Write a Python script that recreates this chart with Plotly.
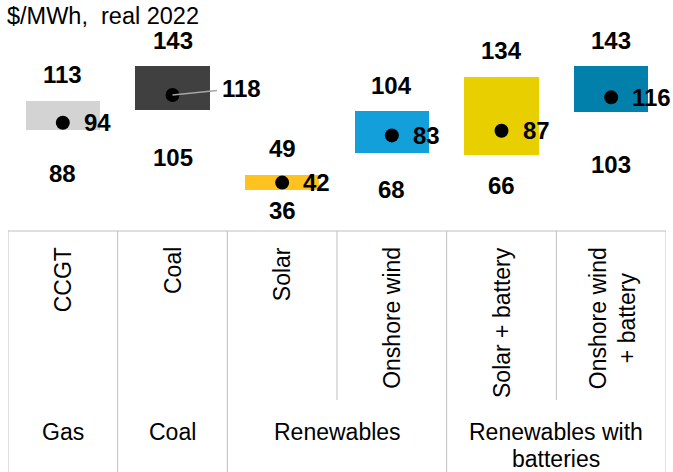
import plotly.graph_objects as go

# Levelised cost ranges by technology ($/MWh, real 2022)
categories = ["CCGT", "Coal", "Solar", "Onshore wind", "Solar + battery", "Onshore wind<br>+ battery"]
low = [88, 105, 36, 68, 66, 103]
high = [113, 143, 49, 104, 134, 143]
mid = [94, 118, 42, 83, 87, 116]
colors = ["#D3D3D3", "#404040", "#FFC21E", "#129FDA", "#E8CF00", "#0080AA"]

groups = ["Gas", "Coal", "Renewables", "Renewables with<br>batteries"]
group_spans = [(0, 0), (1, 1), (2, 3), (4, 5)]

unit_label = "$/MWh,\u00a0 real 2022"

# label styling (pixel gaps between box edges and value labels)
high_gap = 26
low_gap = [44, 47, 21, 37, 31, 52]
mid_gap = 21

W, H = 673, 472
ML, MR = 8, 7
TABLE_TOP = 231          # pixel row where the category table begins
PX_PER_UNIT = 1.152
FONT = "Liberation Sans, Arial, sans-serif"
GRID = "#BFBFBF"


def py(pixel):
    """Convert a pixel row into paper coordinates."""
    return 1 - pixel / H


idx = list(range(len(categories)))

fig = go.Figure()
fig.add_trace(go.Bar(
    x=idx, y=[h - l for h, l in zip(high, low)], base=low,
    width=0.675, marker=dict(color=colors, line=dict(width=0)),
    hoverinfo="skip", showlegend=False,
))
fig.add_trace(go.Scatter(
    x=idx, y=mid, mode="markers",
    marker=dict(size=14, color="black"),
    hoverinfo="skip", showlegend=False,
))

ann = []
bold = dict(family=FONT, size=24, color="black", weight="bold")
for i in idx:
    ann.append(dict(x=i, y=high[i], xref="x", yref="y", text=str(high[i]),
                    showarrow=False, yanchor="middle", yshift=high_gap,
                    font=bold, borderpad=0, borderwidth=0))
    ann.append(dict(x=i, y=low[i], xref="x", yref="y", text=str(low[i]),
                    showarrow=False, yanchor="middle", yshift=-low_gap[i],
                    font=bold, borderpad=0, borderwidth=0))
    if categories[i] == "Coal":
        # mid value pulled out with a leader line
        ann.append(dict(x=i, y=mid[i], xref="x", yref="y", text=str(mid[i]),
                        showarrow=True, arrowhead=0, arrowwidth=1.6,
                        arrowcolor="#A6A6A6", ax=69, ay=-7, standoff=0,
                        font=bold, borderpad=5, borderwidth=0))
    else:
        ann.append(dict(x=i, y=mid[i], xref="x", yref="y", text=str(mid[i]),
                        showarrow=False, xanchor="left", yanchor="middle",
                        xshift=mid_gap, font=bold, borderpad=0, borderwidth=0))

# unit label
ann.append(dict(x=0, y=1, xref="paper", yref="paper", text=unit_label,
                showarrow=False, xanchor="left", yanchor="top",
                xshift=-1, yshift=-3, borderpad=0, borderwidth=0,
                font=dict(family=FONT, size=23.5, color="black")))

# rotated technology names
rot_font = dict(family=FONT, size=23, color="black")
for i, name in enumerate(categories):
    lines = name.split("<br>")
    if len(lines) == 1:
        ann.append(dict(x=i, y=py(247), xref="x", yref="paper", text=name,
                        showarrow=False, textangle=-90, xanchor="center",
                        yanchor="top", font=rot_font, borderpad=0, borderwidth=0))
    else:
        shifts = [-13, 16]
        for line, dx in zip(lines, shifts):
            ann.append(dict(x=i, y=py(318), xref="x", yref="paper", text=line,
                            showarrow=False, textangle=-90, xanchor="center",
                            yanchor="middle", xshift=dx, font=rot_font,
                            borderpad=0, borderwidth=0))

# group names
grp_font = dict(family=FONT, size=23, color="black")
for name, (a, b) in zip(groups, group_spans):
    lines = name.split("<br>")
    if len(lines) == 1:
        rows = [432]
    else:
        rows = [432, 459]
    for line, row in zip(lines, rows):
        ann.append(dict(x=(a + b) / 2, y=py(row), xref="x", yref="paper",
                        text=line, showarrow=False, xanchor="center",
                        yanchor="middle", font=grp_font, borderpad=0, borderwidth=0))

# table grid
shapes = [dict(type="line", xref="x", yref="paper", x0=-0.5, x1=len(idx) - 0.5,
               y0=py(TABLE_TOP), y1=py(TABLE_TOP), line=dict(color=GRID, width=1))]
group_edges = {a - 0.5 for a, b in group_spans} | {b + 0.5 for a, b in group_spans}
for k in range(len(idx) + 1):
    xe = k - 0.5
    bottom = 0 if xe in group_edges else py(400)
    shapes.append(dict(type="line", xref="x", yref="paper", x0=xe, x1=xe,
                       y0=bottom, y1=py(TABLE_TOP), line=dict(color=GRID, width=1)))

fig.update_layout(
    width=W, height=H,
    margin=dict(l=ML, r=MR, t=0, b=0),
    paper_bgcolor="white", plot_bgcolor="white",
    xaxis=dict(range=[-0.5, len(idx) - 0.5], visible=False, fixedrange=True),
    yaxis=dict(range=[0, TABLE_TOP / PX_PER_UNIT], domain=[py(TABLE_TOP), 1],
               visible=False, fixedrange=True),
    annotations=ann, shapes=shapes,
    showlegend=False, bargap=0,
)

fig.write_html("out.html")
